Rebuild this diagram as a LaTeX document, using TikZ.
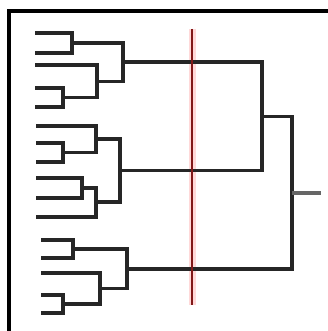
\documentclass[tikz,border=0pt]{standalone}
\begin{document}
\begin{tikzpicture}[x=1pt,y=-1pt,
  branch/.style={draw=black!85,line width=3.2pt,line cap=square},
  frameline/.style={draw=black,line width=3.6pt},
  cutline/.style={draw=red!45!black!90,line width=2.8pt},
  cuthalo/.style={draw=red!15,line width=7pt}]
\useasboundingbox[fill=white] (0,0) rectangle (328,331);
% frame
\coordinate (fa) at (8.7,331);
\coordinate (fb) at (8.7,11.3);
\coordinate (fc) at (328,11.3);
\draw[frameline] (fa) -- (fb) -- (fc);
% leaves
\coordinate (l1) at (35,33);
\coordinate (l2) at (35,53);
\coordinate (l3) at (35,65);
\coordinate (l4) at (35,88);
\coordinate (l5) at (35,107);
\coordinate (l6) at (36,126);
\coordinate (l7) at (36,143);
\coordinate (l8) at (36,162);
\coordinate (l9) at (36,178);
\coordinate (l10) at (36,198);
\coordinate (l11) at (36,217);
\coordinate (l12) at (41,240);
\coordinate (l13) at (41,258);
\coordinate (l14) at (41,273);
\coordinate (l15) at (41,295);
\coordinate (l16) at (41,313);
% merges
\coordinate (m12) at (72,43);
\coordinate (m45) at (63,97.5);
\coordinate (m345) at (97,81.5);
\coordinate (mA) at (123,62);
\coordinate (m78) at (63,152.5);
\coordinate (m678) at (96,139);
\coordinate (m910) at (82,188);
\coordinate (m911) at (96,202);
\coordinate (mB) at (120,170.5);
\coordinate (mAB) at (262,116.5);
\coordinate (m1213) at (73,249);
\coordinate (m1516) at (63,304);
\coordinate (m1416) at (100,288.5);
\coordinate (mC) at (127,269);
\coordinate (root) at (292,193);
\coordinate (stub) at (321,193);
% cut line (behind)
\coordinate (ct) at (192,29);
\coordinate (cb) at (192,305);
\draw[cuthalo] (ct) -- (cb);
% dendrogram
\draw[branch] (l1) -| (m12) |- (l2);
\draw[branch] (l4) -| (m45) |- (l5);
\draw[branch] (l3) -| (m345) |- (m45);
\draw[branch] (m12) -| (mA) |- (m345);
\draw[branch] (l7) -| (m78) |- (l8);
\draw[branch] (l6) -| (m678) |- (m78);
\draw[branch] (l9) -| (m910) |- (l10);
\draw[branch] (m910) -| (m911) |- (l11);
\draw[branch] (m678) -| (mB) |- (m911);
\draw[branch] (mA) -| (mAB) |- (mB);
\draw[branch] (l12) -| (m1213) |- (l13);
\draw[branch] (l15) -| (m1516) |- (l16);
\draw[branch] (l14) -| (m1416) |- (m1516);
\draw[branch] (m1213) -| (mC) |- (m1416);
\draw[branch] (mAB) -| (root) |- (mC);
\draw[branch,draw=black!60] (root) -- (stub);
\draw[cutline] (ct) -- (cb);
\end{tikzpicture}
\end{document}
